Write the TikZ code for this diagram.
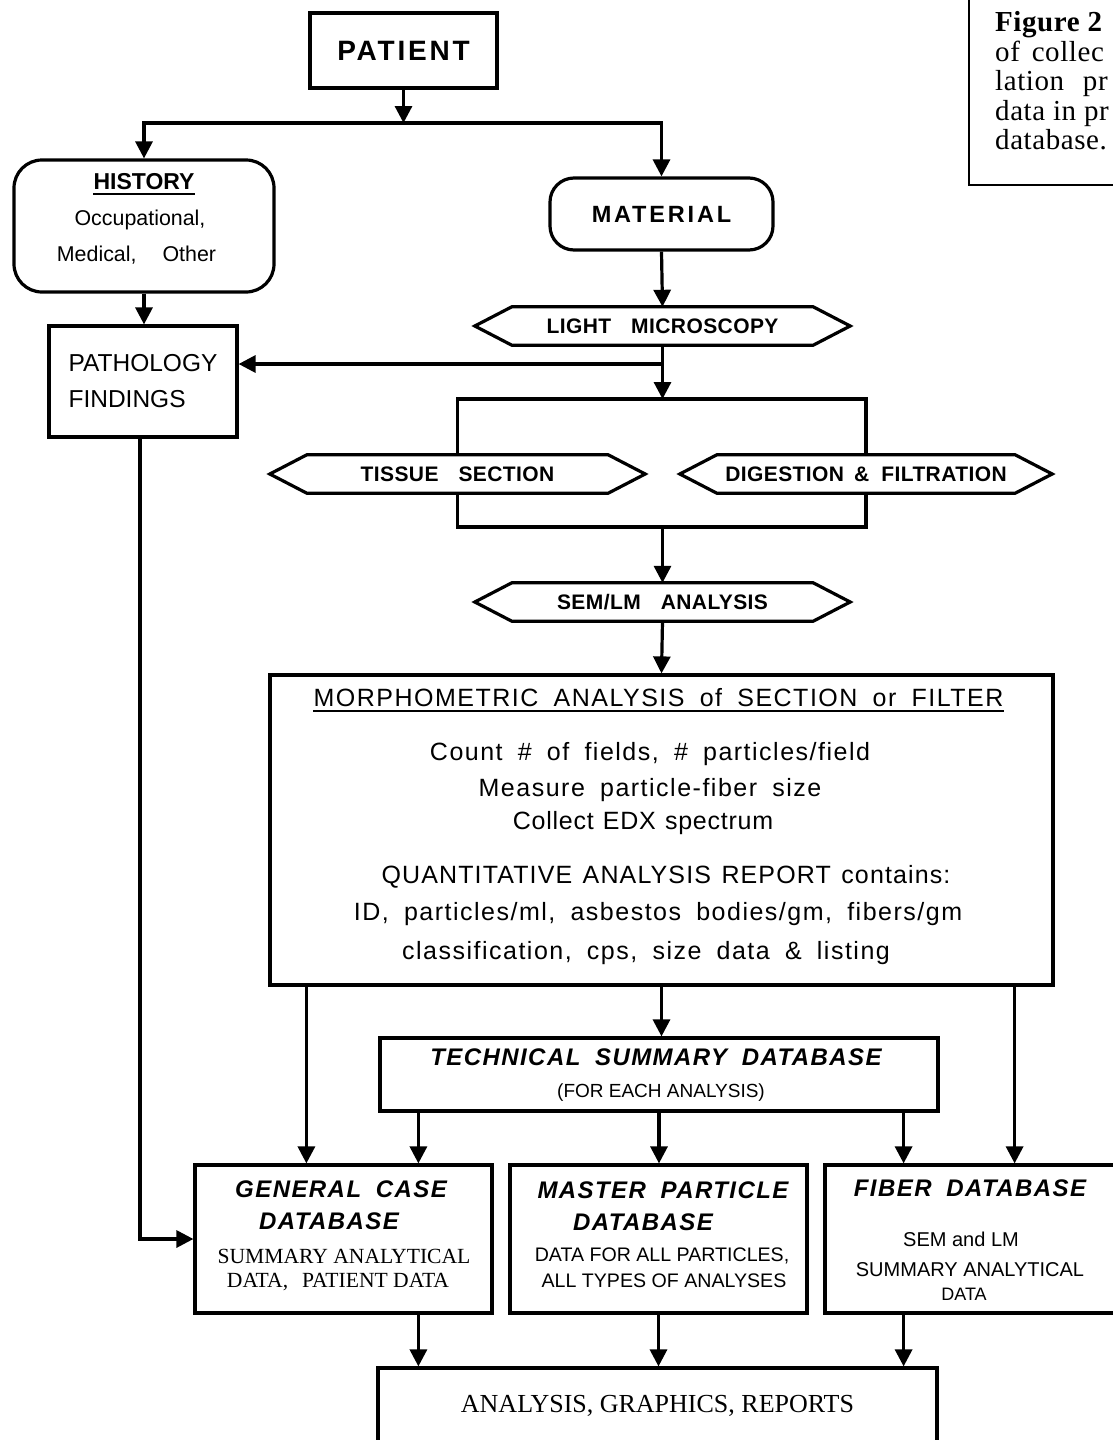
\documentclass[tikz,border=0pt]{standalone}
\usepackage{fontspec}
\setmainfont{Liberation Serif}
\setsansfont{Liberation Sans}
\newfontfamily\capsf{Liberation Sans}[LetterSpace=10]
\newfontfamily\matf{Liberation Sans}[LetterSpace=12]
\newfontfamily\hexf{Liberation Sans}[LetterSpace=2]
\newfontfamily\morf{Liberation Sans}[LetterSpace=6,WordSpace=2.2]
\newfontfamily\morc{Liberation Sans}[LetterSpace=3,WordSpace=1.2]
\newfontfamily\morq{Liberation Sans}[LetterSpace=4.5,WordSpace=1.3]
\newfontfamily\dbf{Liberation Sans}[LetterSpace=6,WordSpace=1.8]
\newfontfamily\plainsf{Liberation Sans}
\newfontfamily\capf{Liberation Serif}[LetterSpace=2]
\usetikzlibrary{arrows.meta}
\newcommand\fsz[1]{\fontsize{#1}{#1}\selectfont}
\newcommand\hexframe[1]{\draw[box] (#1.north west) -- (#1.north east) -- ([xshift=37pt]#1.east) -- (#1.south east) -- (#1.south west) -- ([xshift=-37pt]#1.west) -- cycle;}
\newcommand\ulnode[1]{\draw[line width=2.2pt] ([yshift=-4pt]#1.base west) -- ([yshift=-4pt]#1.base east);}
\tikzset{
  box/.style={draw, line width=3.2pt, inner sep=0pt},
  ln/.style={line width=3.2pt},
  arr/.style={line width=3.2pt, -{Triangle[length=17pt,width=17pt]}},
  hexn/.style={inner sep=0pt, minimum height=38pt, font=\hexf\bfseries\fsz{21}},
  txt/.style={inner sep=0pt},
  captxt/.style={inner sep=0pt, anchor=base west, font=\capf\fsz{29}},
}
\begin{document}
\begin{tikzpicture}[x=1pt,y=-1pt]
\useasboundingbox[fill=white] (0,0) rectangle (1112,1440);

% caption frame
\draw[line width=2pt] (969,-5) -- (969,185) -- (1120,185);
\node[captxt] (cap1) at (995,31) {\bfseries Figure 2};
\node[captxt] (cap2) at (995,61) {of\hspace{4pt} collec};
\node[captxt] (cap3) at (995,90.5) {lation\hspace{11pt} pr};
\node[captxt] (cap4) at (995,120) {data in pr};
\node[captxt] (cap5) at (995,149.5) {database.};

% top
\node[box, minimum width=187pt, minimum height=75pt] (patient) at (403.5,50.5) {\capsf\bfseries\fsz{28}PATIENT};
\coordinate (jy) at (0,123);

\node[box, rounded corners=28pt, minimum width=260pt, minimum height=132pt] (history) at (144,226) {};
\node[txt] (histT) at (144,182) {\plainsf\bfseries\fsz{23}HISTORY};
\ulnode{histT}
\node[txt] (histA) at (140,220) {\plainsf\fsz{21.4}Occupational,};
\node[txt] (histB) at (136.5,255) {\plainsf\fsz{21.4}Medical,\hspace{26pt}Other};

\node[box, rounded corners=24pt, minimum width=223pt, minimum height=72pt] (material) at (661.5,214) {\matf\bfseries\fsz{23.5}MATERIAL};

\node[box, minimum width=188pt, minimum height=111pt, align=left, font=\plainsf\fontsize{24.5}{36}\selectfont] (path) at (143,381.5) {PATHOLOGY\\FINDINGS};

% hexagons
\node[hexn, minimum width=301pt] (lm) at (662.5,326) {LIGHT\hspace{20pt}MICROSCOPY};
\hexframe{lm}
\node[hexn, minimum width=301pt] (tissue) at (457.5,474) {TISSUE\hspace{20pt}SECTION};
\hexframe{tissue}
\node[hexn, minimum width=298pt] (digest) at (866,474) {DIGESTION\hspace{10pt}\&\hspace{12pt}FILTRATION};
\hexframe{digest}
\node[hexn, minimum width=301pt] (sem) at (662.5,602) {SEM/LM\hspace{20pt}ANALYSIS};
\hexframe{sem}
\coordinate (pj) at (662.5,364);
\coordinate (btop) at (662.5,399);
\coordinate (bbot) at (662.5,527);

% morphometric
\node[box, minimum width=783pt, minimum height=310pt] (morph) at (661.5,830) {};
\node[txt] (mt) at (658.5,698) {\morf\fsz{25}MORPHOMETRIC ANALYSIS of SECTION or FILTER};
\ulnode{mt}
\node[txt] (m1) at (650,754) {\morf\fsz{25}Count \# of fields, \# particles/field};
\node[txt] (m2) at (650,790) {\morf\fsz{25}Measure particle-fiber size};
\node[txt] (m3) at (643,823) {\morc\fsz{25}Collect EDX spectrum};
\node[txt] (m4) at (666,877) {\morq\fsz{25}QUANTITATIVE ANALYSIS REPORT contains:};
\node[txt] (m5) at (658,914) {\morf\fsz{25}ID, particles/ml, asbestos bodies/gm, fibers/gm};
\node[txt] (m6) at (646,953) {\morf\fsz{25}classification, cps, size data \& listing};

% technical summary
\node[box, minimum width=558pt, minimum height=73pt] (tech) at (659,1074.5) {};
\node[txt] (techT) at (656,1057) {\dbf\bfseries\itshape\fsz{24}TECHNICAL SUMMARY DATABASE};
\node[txt] (techS) at (661,1093) {\plainsf\fsz{19}(FOR EACH ANALYSIS)};

% databases
\node[box, minimum width=297pt, minimum height=148pt] (gen) at (343.5,1239) {};
\node[txt] (genT1) at (341,1189) {\dbf\bfseries\itshape\fsz{24}GENERAL CASE};
\node[txt] (genT2) at (329,1221) {\dbf\bfseries\itshape\fsz{24}DATABASE};
\node[txt] (genS1) at (344,1256) {\fsz{21.6}SUMMARY ANALYTICAL};
\node[txt] (genS2) at (338,1282) {\fsz{21.6}DATA,\hspace{14pt}PATIENT DATA};

\node[box, minimum width=297pt, minimum height=148pt] (master) at (658.5,1239) {};
\node[txt] (maT1) at (663,1190) {\dbf\bfseries\itshape\fsz{24}MASTER PARTICLE};
\node[txt] (maT2) at (643,1222) {\dbf\bfseries\itshape\fsz{24}DATABASE};
\node[txt] (maS1) at (662,1256) {\plainsf\fsz{19.6}DATA FOR ALL PARTICLES,};
\node[txt] (maS2) at (664,1281) {\plainsf\fsz{19.6}ALL TYPES OF ANALYSES};

\node[box, minimum width=300pt, minimum height=148pt] (fiber) at (975,1239) {};
\node[txt] (fiT) at (970,1188) {\dbf\bfseries\itshape\fsz{24}FIBER DATABASE};
\node[txt] (fiS1) at (961,1239) {\plainsf\fsz{20}SEM and LM};
\node[txt] (fiS2) at (970,1270) {\plainsf\fsz{20}SUMMARY ANALYTICAL};
\node[txt] (fiS3) at (964,1294) {\plainsf\fsz{18}DATA};

\node[box, minimum width=559pt, minimum height=76pt] (analysis) at (657.5,1406) {\fsz{26}ANALYSIS, GRAPHICS, REPORTS};

% connectors
\draw[arr] (patient.south) -- (patient.south |- jy);
\draw[arr] (patient.south |- jy) -| (history.north);
\draw[arr] (patient.south |- jy) -| (material.north);
\draw[arr] (history.south) -- (history.south |- path.north);
\draw[arr] (material.south) -- (lm.north);
\draw[arr] (lm.south) -- (btop);
\draw[arr] (pj) -- (pj -| path.east);
\draw[ln] (tissue.north) |- (btop) -| (digest.north);
\draw[ln] (tissue.south) |- (bbot) -| (digest.south);
\draw[arr] (bbot) -- (sem.north);
\draw[arr] (sem.south) -- (morph.north);
\draw[arr] ([xshift=38pt]morph.south west) -- ([xshift=38pt]morph.south west |- gen.north);
\draw[arr] (morph.south) -- (morph.south |- tech.north);
\draw[arr] ([xshift=-40pt]morph.south east) -- ([xshift=-40pt]morph.south east |- fiber.north);
\draw[arr] ([xshift=40pt]tech.south west) -- ([xshift=40pt]tech.south west |- gen.north);
\draw[arr] (tech.south) -- (tech.south |- master.north);
\draw[arr] ([xshift=-36pt]tech.south east) -- ([xshift=-36pt]tech.south east |- fiber.north);
\draw[arr] ([xshift=-3pt]path.south) |- (gen.west);
\draw[arr] ([xshift=42pt]analysis.north west |- gen.south) -- ([xshift=42pt]analysis.north west);
\draw[arr] (master.south) -- (master.south |- analysis.north);
\draw[arr] ([xshift=-35pt]analysis.north east |- fiber.south) -- ([xshift=-35pt]analysis.north east);
\end{tikzpicture}
\end{document}
